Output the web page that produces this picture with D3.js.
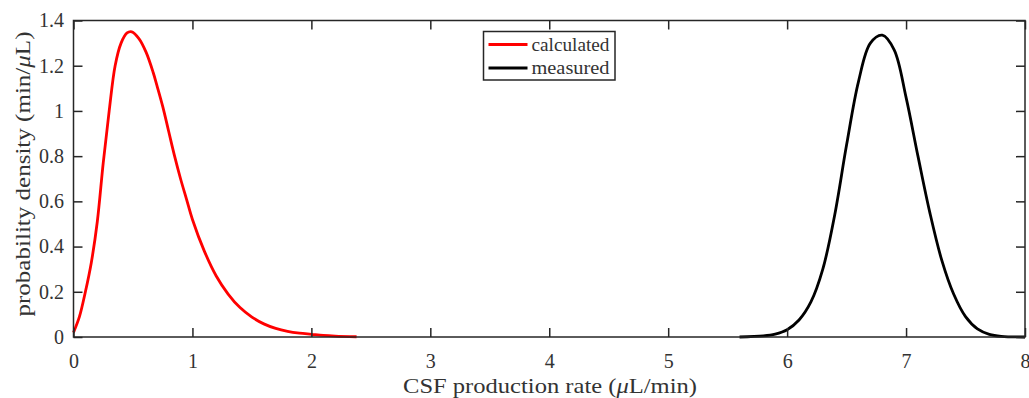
<!DOCTYPE html>
<html>
<head>
<meta charset="utf-8">
<script src="https://cdn.jsdelivr.net/npm/d3@7"></script>
<style>
  body { margin: 0; background: #fff; }
  svg { display: block; font-family: "Liberation Serif", "Times New Roman", serif; }
</style>
</head>
<body>
<div id="chart"></div>
<script>
// datos (x en uL/min, y en min/uL)
const calcX = [0, 0.05, 0.10, 0.15, 0.20, 0.25, 0.30, 0.35, 0.40, 0.45, 0.49, 0.55, 0.61, 0.67, 0.70, 0.75, 0.80, 0.85, 0.90, 0.95, 1.00, 1.10, 1.20, 1.30, 1.40, 1.50, 1.60, 1.70, 1.80, 1.90, 2.00, 2.10, 2.20, 2.38];
const calcY = [0.02, 0.09, 0.20, 0.33, 0.51, 0.77, 1.00, 1.20, 1.30, 1.345, 1.35, 1.32, 1.26, 1.17, 1.115, 1.02, 0.91, 0.80, 0.70, 0.61, 0.52, 0.38, 0.27, 0.19, 0.13, 0.088, 0.058, 0.038, 0.025, 0.017, 0.012, 0.007, 0.004, 0.001];

const measX = [5.6, 5.8, 5.9, 6.0, 6.1, 6.2, 6.3, 6.4, 6.5, 6.6, 6.7, 6.8, 6.9, 7.0, 7.1, 7.2, 7.3, 7.4, 7.5, 7.6, 7.7, 7.8, 8.0];
const measY = [0, 0.005, 0.013, 0.032, 0.075, 0.155, 0.30, 0.54, 0.85, 1.13, 1.30, 1.335, 1.27, 1.06, 0.80, 0.55, 0.34, 0.19, 0.09, 0.036, 0.012, 0.003, 0];

const xTicks = [0, 1, 2, 3, 4, 5, 6, 7, 8];
const yTicks = [0, 0.2, 0.4, 0.6, 0.8, 1, 1.2, 1.4];

const series = [
  { name: 'calculated', color: '#ff0000', xs: calcX, ys: calcY },
  { name: 'measured', color: '#000000', xs: measX, ys: measY }
];

const width = 1029, height = 398;
const margin = { left: 73.5, right: 4, top: 20.5, bottom: 61 };
const axisColor = '#262626';

const svg = d3.select('#chart').append('svg').attr('width', width).attr('height', height);

const x = d3.scaleLinear().domain([0, 8]).range([margin.left, width - margin.right]);
const y = d3.scaleLinear().domain([0, 1.4]).range([height - margin.bottom, margin.top]);

// curvas
const line = d3.line().x((d) => x(d[0])).y((d) => Math.min(y(d[1]), y(0))).curve(d3.curveCatmullRom.alpha(0.5));
series.forEach((s) => {
  svg.append('path')
    .datum(s.xs.map((v, i) => [v, s.ys[i]]))
    .attr('d', line)
    .attr('fill', 'none')
    .attr('stroke', s.color)
    .attr('stroke-width', 2.8)
    .attr('stroke-linejoin', 'round');
});

// ejes (ticks hacia dentro, como MATLAB)
const fmt = (d) => String(d);
const styleAxis = (g) => {
  g.select('.domain').remove();
  g.selectAll('line').attr('stroke', axisColor).attr('stroke-width', 1.5);
  g.selectAll('text').attr('fill', '#333').style('font-size', '20px').style('font-family', '"Liberation Serif", serif');
};

svg.append('g').attr('transform', `translate(0,${y(0)})`)
  .call(d3.axisBottom(x).tickValues(xTicks).tickFormat(fmt).tickSizeInner(-9).tickPadding(17))
  .call(styleAxis);
svg.append('g').attr('transform', `translate(0,${y(1.4)})`)
  .call(d3.axisTop(x).tickValues(xTicks).tickFormat('').tickSizeInner(-9))
  .call(styleAxis);
svg.append('g').attr('transform', `translate(${x(0)},0)`)
  .call(d3.axisLeft(y).tickValues(yTicks).tickFormat(fmt).tickSizeInner(-9).tickPadding(9.5))
  .call(styleAxis);
svg.append('g').attr('transform', `translate(${x(8)},0)`)
  .call(d3.axisRight(y).tickValues(yTicks).tickFormat('').tickSizeInner(-9))
  .call(styleAxis);

// marco
svg.append('rect')
  .attr('x', x(0)).attr('y', y(1.4))
  .attr('width', x(8) - x(0)).attr('height', y(0) - y(1.4))
  .attr('fill', 'none').attr('stroke', axisColor).attr('stroke-width', 1.5);

// titulos de ejes
const xl = svg.append('text')
  .attr('x', 550).attr('y', 393)
  .attr('text-anchor', 'middle').attr('fill', '#333').style('font-size', '22px')
  .attr('textLength', 294).attr('lengthAdjust', 'spacingAndGlyphs');
xl.append('tspan').text('CSF production rate (');
xl.append('tspan').attr('font-style', 'italic').text('μ');
xl.append('tspan').text('L/min)');

const yl = svg.append('text')
  .attr('transform', 'translate(30,174) rotate(-90)')
  .attr('text-anchor', 'middle').attr('fill', '#333').style('font-size', '22px')
  .attr('textLength', 285).attr('lengthAdjust', 'spacingAndGlyphs');
yl.append('tspan').text('probability density (min/');
yl.append('tspan').attr('font-style', 'italic').text('μ');
yl.append('tspan').text('L)');

// leyenda
const legend = svg.append('g').attr('transform', 'translate(483.5,31.5)');
legend.append('rect')
  .attr('width', 131.5).attr('height', 48.5)
  .attr('fill', '#fff').attr('stroke', axisColor).attr('stroke-width', 1.5);
series.forEach((s, i) => {
  const yy = 13 + i * 23.5;
  legend.append('line')
    .attr('x1', 5).attr('x2', 44).attr('y1', yy).attr('y2', yy)
    .attr('stroke', s.color).attr('stroke-width', 3);
  legend.append('text')
    .attr('x', 48).attr('y', yy + 6)
    .attr('fill', '#333').style('font-size', '18.5px')
    .attr('textLength', 78).attr('lengthAdjust', 'spacingAndGlyphs')
    .text(s.name);
});
</script>
</body>
</html>
